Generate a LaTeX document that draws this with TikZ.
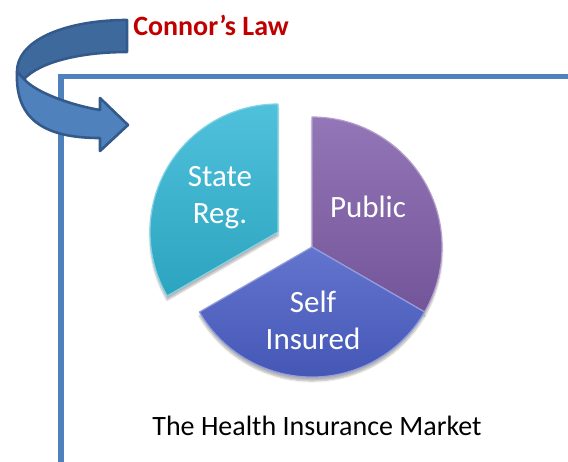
\documentclass[tikz,border=0pt]{standalone}
\usepackage{fontspec}
\setmainfont{Carlito}
\usetikzlibrary{shadows.blur}

\definecolor{framebl}{RGB}{79,129,189}
\definecolor{arrdark}{RGB}{62,105,157}
\definecolor{arrline}{RGB}{52,90,140}
\definecolor{lawred}{RGB}{192,0,0}
\definecolor{statecy}{RGB}{49,182,213}
\definecolor{publicpu}{RGB}{128,94,170}
\definecolor{selfbl}{RGB}{72,92,198}

\begin{document}
\begin{tikzpicture}[x=1pt,y=-1pt,
  frameline/.style={draw=framebl,line width=5.5pt},
  ribbon/.style={fill=#1,draw=arrline,line width=2.6pt,line join=round},
  slice/.style={top color=#1!85!white,bottom color=#1!90!black,
    draw=#1!60!white,line width=1.2pt,line join=round},
  under/.style={fill=white,blur shadow={shadow blur steps=6,
    shadow xshift=0pt,shadow yshift=-4pt,shadow opacity=30}},
  lbl/.style={text=white,align=center,font=\fontsize{31}{37}\selectfont}]
\useasboundingbox (0,0) rectangle (568,461);

% outer frame
\draw[frameline] (61,463) |- (570,76.5);

% pie centres (State Reg. is pulled out)
\coordinate (c) at (312,247);
\coordinate (cs) at (278,232);

% soft shadow first, then the slices
\path[under] (cs) -- ++(-90:128) arc[start angle=-90,end angle=-210,radius=128] -- cycle;
\path[under] (c) -- ++(-90:130) arc[start angle=-90,end angle=30,radius=130] -- cycle;
\path[under] (c) -- ++(150:130) arc[start angle=150,end angle=30,radius=130] -- cycle;

\draw[slice=statecy] (cs) -- ++(-90:128) arc[start angle=-90,end angle=-210,radius=128] -- cycle;
\draw[slice=publicpu] (c) -- ++(-90:130) arc[start angle=-90,end angle=30,radius=130] -- cycle;
\draw[slice=selfbl] (c) -- ++(150:130) arc[start angle=150,end angle=30,radius=130] -- cycle;

\node[lbl] (state) at (220,198) {State\\Reg.};
\node[lbl] (public) at (368,207) {Public};
\node[lbl] (self) at (313,320) {Self\\Insured};

\node[font=\fontsize{28}{34}\selectfont] (market) at (317,426) {The Health Insurance Market};

% curved arrow: back half, then front half with the head
\draw[ribbon=arrdark] (127,20) .. controls (70,20) and (17,38) .. (17,72)
  -- (24,79) .. controls (40,62) and (80,52) .. (127,52) -- cycle;
\draw[ribbon=framebl] (17,72) .. controls (15,120) and (45,138) .. (100,138)
  -- (100,151) -- (128,125) -- (100,98) -- (100,110)
  .. controls (70,105) and (35,92) .. (24,79) -- cycle;

\node[font=\bfseries\fontsize{28}{33}\selectfont,text=lawred] (law) at (211,25) {Connor’s Law};
\end{tikzpicture}
\end{document}
